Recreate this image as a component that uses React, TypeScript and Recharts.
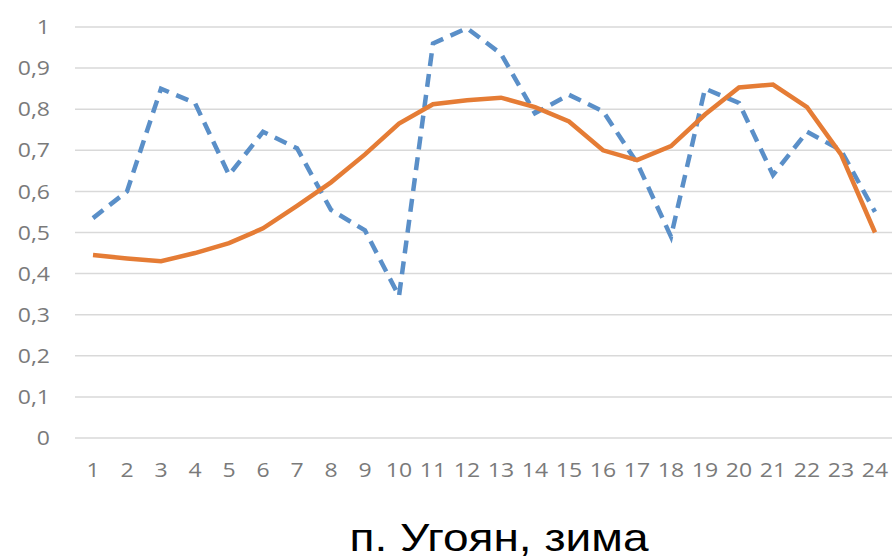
import { LineChart, Line, XAxis, YAxis, CartesianGrid } from 'recharts'

// часы суток
const hours = ['1', '2', '3', '4', '5', '6', '7', '8', '9', '10', '11', '12', '13', '14', '15', '16', '17', '18', '19', '20', '21', '22', '23', '24']

// фактический профиль (пунктир)
const actual = [0.535, 0.6, 0.85, 0.815, 0.64, 0.745, 0.705, 0.555, 0.505, 0.345, 0.96, 0.997, 0.935, 0.79, 0.835, 0.795, 0.67, 0.49, 0.85, 0.815, 0.64, 0.745, 0.7, 0.55]

// расчётный профиль (сплошная)
const model = [0.445, 0.437, 0.43, 0.45, 0.474, 0.51, 0.565, 0.622, 0.69, 0.765, 0.812, 0.822, 0.828, 0.805, 0.77, 0.7, 0.676, 0.71, 0.787, 0.853, 0.86, 0.805, 0.69, 0.5]

const yTicks = [0, 0.1, 0.2, 0.3, 0.4, 0.5, 0.6, 0.7, 0.8, 0.9, 1]

const data = hours.map((h, i) => ({ hour: h, actual: actual[i], model: model[i] }))

const STRETCH = 1.15
const tickFont = { fontFamily: '"Open Sans", sans-serif', fontSize: 20, fill: '#7a7a7a' }

function HourTick({ x, y, payload }: { x?: number; y?: number; payload?: { value: string } }) {
  return (
    <g transform={`translate(${x},${y})`}>
      <text transform={`scale(${STRETCH},1)`} textAnchor="middle" dy="0.71em" {...tickFont}>
        {payload?.value}
      </text>
    </g>
  )
}

function ShareTick({ x, y, payload }: { x?: number; y?: number; payload?: { value: number } }) {
  return (
    <g transform={`translate(${x},${y})`}>
      <text transform={`scale(${STRETCH},1)`} textAnchor="end" dy="0.355em" {...tickFont}>
        {String(payload?.value).replace('.', ',')}
      </text>
    </g>
  )
}

export default function App() {
  return (
    <div style={{ position: 'absolute', left: 0, top: 0, width: 895, height: 560, background: '#fff' }}>
      <LineChart width={895} height={490} data={data} margin={{ top: 27, right: 3, bottom: 0, left: 0 }}>
        <CartesianGrid vertical={false} stroke="#d9d9d9" strokeWidth={1.5} />
        <XAxis
          dataKey="hour"
          axisLine={false}
          tickLine={false}
          tickSize={0}
          tickMargin={25}
          height={52}
          interval={0}
          padding={{ left: 18, right: 17 }}
          tick={<HourTick />}
        />
        <YAxis
          type="number"
          domain={[0, 1]}
          ticks={yTicks}
          width={75}
          axisLine={false}
          tickLine={false}
          tickSize={0}
          tickMargin={25}
          tick={<ShareTick />}
        />
        <Line
          dataKey="actual"
          type="linear"
          stroke="#5a8fc8"
          strokeWidth={4.5}
          strokeDasharray="13 8"
          dot={false}
          isAnimationActive={false}
        />
        <Line
          dataKey="model"
          type="linear"
          stroke="#e57c35"
          strokeWidth={4.5}
          dot={false}
          isAnimationActive={false}
        />
      </LineChart>
      <div
        style={{
          position: 'absolute',
          left: 499,
          top: 518,
          transform: 'translateX(-50%) scaleX(1.18)',
          whiteSpace: 'nowrap',
          fontFamily: '"Liberation Sans", Arial, sans-serif',
          fontSize: 39,
          lineHeight: '39px',
          color: '#000',
        }}
      >
        п. Угоян, зима
      </div>
    </div>
  )
}
